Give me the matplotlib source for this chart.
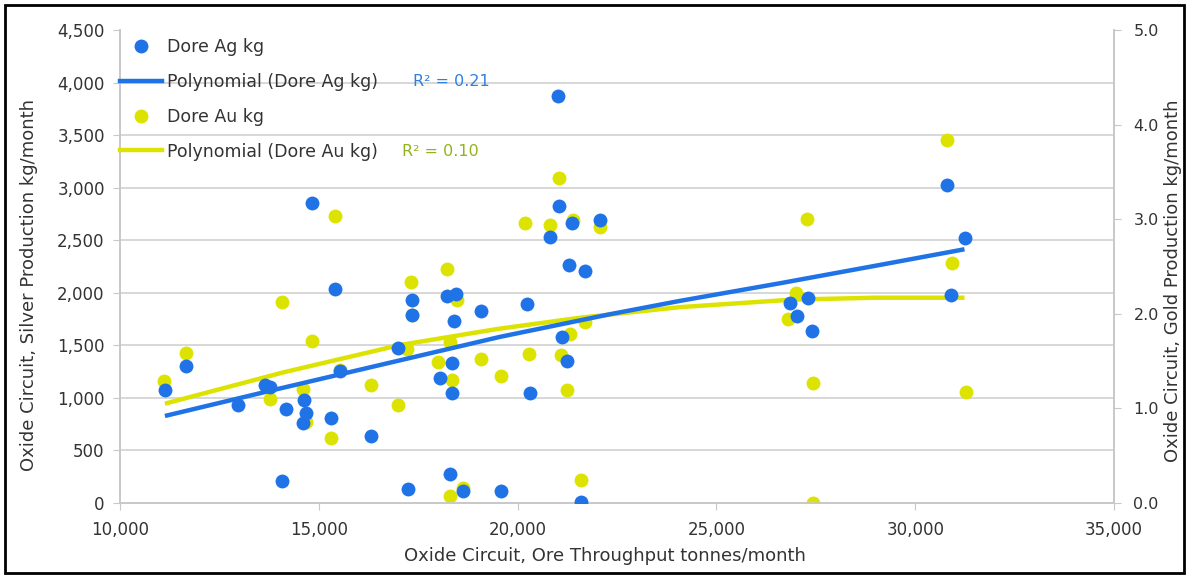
import matplotlib
matplotlib.use("Agg")
import matplotlib.pyplot as plt
import numpy as np
from matplotlib.lines import Line2D
from matplotlib.patches import Rectangle
from matplotlib.ticker import FuncFormatter, MultipleLocator

plt.rcParams["font.family"] = ["DejaVu Sans"]

# Oxide circuit throughput (t/month) vs silver dore (kg/month)
ag_throughput = [11120, 11670, 12970, 13650, 13770, 14180, 14640, 14680, 14610, 15300,
                 15400, 15540, 16310, 14080, 16990, 17250, 17340, 17340, 18040, 18220,
                 18450, 18400, 18350, 18350, 18290, 18620, 19080, 19570, 20240, 20300,
                 21120, 21250, 21590, 21030, 21380, 22080, 20810, 21290, 21690, 21020,
                 30790, 31260, 30910, 26840, 27300, 27030, 27410, 14820]
ag_kg = [1075, 1300, 935, 1120, 1100, 890, 980, 860, 760, 805,
         2035, 1260, 640, 205, 1470, 130, 1935, 1790, 1185, 1970,
         1990, 1735, 1335, 1050, 275, 115, 1830, 110, 1890, 1050,
         1580, 1350, 5, 2830, 2660, 2690, 2530, 2265, 2205, 3870,
         3025, 2525, 1980, 1905, 1950, 1775, 1640, 2855]

# Oxide circuit throughput (t/month) vs gold dore (kg/month)
au_throughput = [11100, 11670, 14080, 13770, 14610, 14680, 15300, 16320, 15540, 14820,
                 16990, 17330, 18230, 17340, 18470, 17990, 18360, 18300, 18620, 19080,
                 19570, 20280, 21090, 21250, 21330, 21590, 18300, 20180, 20810, 21030,
                 21390, 22080, 21690, 15400, 30800, 27290, 30920, 27010, 26810, 27420,
                 31270, 27440, 17230]
au_kg = [1.29, 1.59, 2.12, 1.10, 1.21, 0.86, 0.69, 1.25, 1.41, 1.71,
         1.04, 2.34, 2.47, 1.99, 2.15, 1.49, 1.30, 0.07, 0.16, 1.52,
         1.34, 1.58, 1.56, 1.19, 1.79, 0.24, 1.70, 2.96, 2.94, 3.44,
         2.99, 2.92, 1.91, 3.03, 3.84, 3.00, 2.54, 2.22, 1.94, 1.27,
         1.17, 0.00, 1.63]

# polynomial trend lines as drawn in the source chart
ag_trend_x = [11130, 13690, 16620, 19550, 22310, 24070, 26590, 29100, 31240]
ag_trend_y = [828, 1060, 1320, 1580, 1795, 1922, 2090, 2264, 2414]
au_trend_x = [11130, 14100, 17040, 19500, 21600, 24070, 26920, 29000, 31240]
au_trend_y = [1.05, 1.38, 1.67, 1.84, 1.96, 2.07, 2.15, 2.17, 2.17]

BLUE = "#1f73e6"
YELLOW = "#dde300"
TEXT = "#333333"
GRID = "#d4d4d4"
SPINE = "#c8c8c8"

W, H = 1189, 577
fig = plt.figure(figsize=(W / 100, H / 100), dpi=100)
ax = fig.add_axes([120 / W, 1 - 503 / H, (1114 - 120) / W, (503 - 30) / H])
ax2 = ax.twinx()
# silver drawn over gold, like the original
ax.set_zorder(ax2.get_zorder() + 1)
ax.patch.set_visible(False)

ax2.scatter(au_throughput, au_kg, s=100, color=YELLOW, zorder=3, linewidths=0)
ax2.plot(au_trend_x, au_trend_y, color=YELLOW, lw=3.2, zorder=4, solid_capstyle="butt")
ax.scatter(ag_throughput, ag_kg, s=100, color=BLUE, zorder=3, linewidths=0)
ax.plot(ag_trend_x, ag_trend_y, color=BLUE, lw=3.2, zorder=4, solid_capstyle="butt")

ax.set_xlim(10000, 35000)
ax.set_ylim(0, 4500)
ax2.set_ylim(0, 5)
ax.set_xticks(range(10000, 35001, 5000))
ax.set_yticks(range(0, 4501, 500))
ax2.set_yticks(np.arange(0, 5.01, 1.0))
ax.xaxis.set_major_formatter(FuncFormatter(lambda v, p: f"{v:,.0f}"))
ax.yaxis.set_major_formatter(FuncFormatter(lambda v, p: f"{v:,.0f}"))
ax2.yaxis.set_major_formatter(FuncFormatter(lambda v, p: f"{v:.1f}"))

# horizontal grid follows the silver ticks, drawn underneath everything
ax2.yaxis.set_minor_locator(MultipleLocator(5 / 9))
ax2.grid(which="minor", axis="y", color=GRID, lw=1.3)
ax2.tick_params(which="minor", length=0)

for a in (ax, ax2):
    a.spines["top"].set_visible(False)
    for s in ("left", "right", "bottom"):
        a.spines[s].set_color(SPINE)
        a.spines[s].set_linewidth(1.2)
    a.tick_params(axis="both", which="major", length=5, color=SPINE,
                  labelsize=12, labelcolor=TEXT)
ax.tick_params(axis="x", pad=8)
ax.tick_params(axis="y", pad=6)
ax2.tick_params(axis="y", pad=9, labelsize=11.5)

ax.set_xlabel("Oxide Circuit, Ore Throughput tonnes/month", fontsize=13, color=TEXT)
ax.xaxis.set_label_coords((605 - 120) / 994, (503 - 547) / 473)
ax.set_ylabel("Oxide Circuit, Silver Production kg/month", fontsize=13, color=TEXT)
ax.yaxis.set_label_coords((38 - 120) / 994, (503 - 285) / 473)
ax2.set_ylabel("Oxide Circuit, Gold Production kg/month", fontsize=13, color=TEXT)
ax2.yaxis.set_label_coords((1164 - 120) / 994, (503 - 281) / 473)

handles = [
    Line2D([], [], ls="none", marker="o", ms=10, color=BLUE, mec="none"),
    Line2D([], [], color=BLUE, lw=3.2),
    Line2D([], [], ls="none", marker="o", ms=10, color=YELLOW, mec="none"),
    Line2D([], [], color=YELLOW, lw=3.2),
]
labels = ["Dore Ag kg", "Polynomial (Dore Ag kg)", "Dore Au kg", "Polynomial (Dore Au kg)"]
leg = ax.legend(handles, labels, loc="upper left", bbox_to_anchor=(0, 1 - 8 / 473),
                frameon=False, fontsize=12.5, labelspacing=0.97, handlelength=2.4,
                handletextpad=0.3, borderpad=0, borderaxespad=0)
for t in leg.get_texts():
    t.set_color(TEXT)

ax.text((413 - 120) / 994, (503 - 81) / 473, "R² = 0.21", transform=ax.transAxes,
        color="#2f7fe0", fontsize=11.5, va="center", ha="left")
ax.text((402 - 120) / 994, (503 - 151) / 473, "R² = 0.10", transform=ax.transAxes,
        color="#93b31c", fontsize=11.5, va="center", ha="left")

fig.patches.append(Rectangle((5 / W, 1 - 573 / H), (1184 - 5) / W, (573 - 5) / H,
                             transform=fig.transFigure, fill=False, ec="black", lw=2))

fig.savefig("out.png", dpi=100)
